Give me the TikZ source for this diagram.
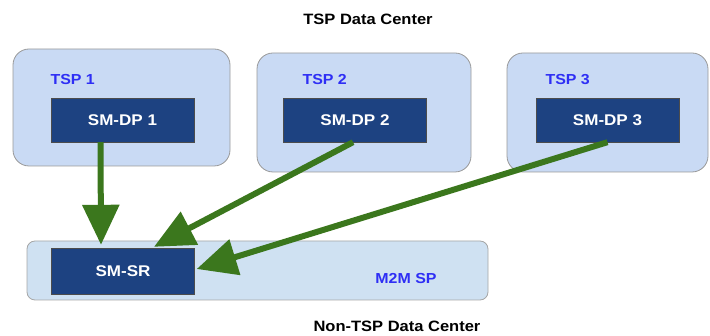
\documentclass[tikz,border=0pt]{standalone}
\usepackage{fontspec}
\setsansfont{Liberation Sans}[FakeStretch=1.1]
\usetikzlibrary{arrows.meta}
\definecolor{tspfill}{HTML}{C9DAF4}
\definecolor{spfill}{HTML}{CFE1F2}
\definecolor{boxblue}{HTML}{1D4281}
\definecolor{lblblue}{HTML}{2E2EF5}
\definecolor{arrgreen}{HTML}{3B771D}
\begin{document}
\begin{tikzpicture}[x=1pt,y=-1pt,
  tspbox/.style={draw=gray!80,fill=tspfill,rounded corners=16pt,line width=0.8pt},
  unit/.style={draw=black!70,fill=boxblue,text=white,minimum width=143pt,minimum height=44pt,
    inner sep=0pt,font=\sffamily\bfseries\fontsize{15.5}{17}\selectfont},
  tsplbl/.style={anchor=west,text=lblblue,font=\sffamily\bfseries\fontsize{14.5}{16}\selectfont},
  dclbl/.style={font=\sffamily\bfseries\fontsize{15}{17}\selectfont},
  flow/.style={draw=arrgreen,line width=6pt,-{Triangle[length=40pt,width=36pt]}}]
\useasboundingbox (0,0) rectangle (710,336);

% Data centers
\node[dclbl] (tspdc) at (368,19) {TSP Data Center};
\node[dclbl] (m2mdc) at (397,326) {Non-TSP Data Center};

% TSP frames
\draw[tspbox] (13,49) rectangle (230,166);
\draw[tspbox] (257,53) rectangle (471,172);
\draw[tspbox] (507,53) rectangle (708,172);
\node[tsplbl] (tsp1) at (47,80) {TSP 1};
\node[tsplbl] (tsp2) at (299,80) {TSP 2};
\node[tsplbl] (tsp3) at (542,80) {TSP 3};

% M2M SP frame
\draw[draw=gray!70,fill=spfill,rounded corners=8pt,line width=0.8pt] (27,241) rectangle (488,300);
\node[tsplbl,anchor=center] (m2m) at (406,279) {M2M SP};

% Units
\node[unit] (dp1) at (122.5,120) {SM-DP 1};
\node[unit] (dp2) at (355,120) {SM-DP 2};
\node[unit] (dp3) at (607.5,120) {SM-DP 3};
\node[unit,minimum height=46pt] (smsr) at (123,271) {SM-SR};

% Links
\draw[flow] ([xshift=-22pt]dp1.south) -- ([xshift=-22pt,yshift=3pt]smsr.north);
\draw[flow] ([xshift=-2pt]dp2.south) -- ([xshift=31pt,yshift=1pt]smsr.north);
\draw[flow] (dp3.south) -- ([xshift=2pt,yshift=2pt]smsr.east);
\end{tikzpicture}
\end{document}
